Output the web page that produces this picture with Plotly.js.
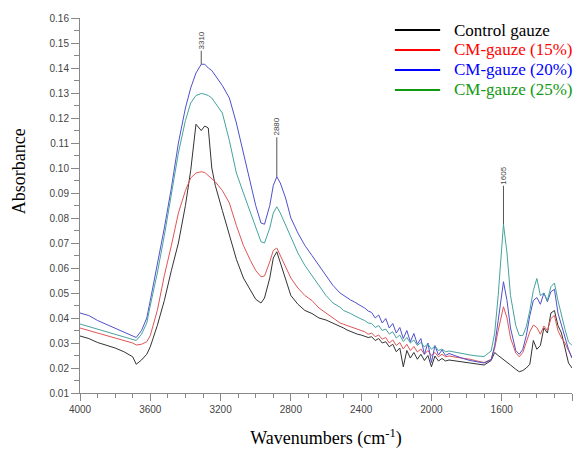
<!DOCTYPE html>
<html>
<head>
<meta charset="utf-8">
<script src="https://cdn.plot.ly/plotly-3.0.1.min.js"></script>
<style>html,body{margin:0;padding:0;background:#fff}#chart{width:583px;height:451px}</style>
</head>
<body>
<div id="chart"></div>
<script>
// Wavenumbers (cm-1), shared by all series
const wavenumber = [
  4000,3950,3900,3850,3800,3750,3700,3680,3650,3620,
  3600,3560,3520,3480,3440,3400,3370,3340,3310,3290,
  3270,3250,3230,3190,3150,3110,3070,3030,3000,2970,
  2950,2920,2900,2880,2860,2830,2800,2760,2720,2680,
  2640,2600,2560,2520,2500,
  2480,2460,2440,2420,2400,2380,2360,2340,2320,2300,
  2280,2260,2240,2220,2200,2180,2160,2140,2120,2100,
  2080,2060,2040,2020,2000,1980,1960,1940,1920,1900,
  1860,1820,1780,1740,1700,1660,1640,1620,1600,1590,
  1570,1550,1520,1500,1480,1460,1440,1420,1400,1380,
  1360,1340,1320,1300,1280,1260,1240,1220,1200
];

const controlGauze = [
  0.0328,0.0318,0.0302,0.0292,0.0280,0.0265,0.0245,0.0215,0.0232,0.0255,
  0.0285,0.0370,0.0470,0.0590,0.0700,0.0850,0.0990,0.1175,0.1150,0.1168,
  0.1160,0.1000,0.0930,0.0830,0.0730,0.0635,0.0560,0.0510,0.0475,0.0460,
  0.0480,0.0560,0.0640,0.0665,0.0620,0.0550,0.0490,0.0455,0.0430,0.0418,
  0.0400,0.0392,0.0380,0.0365,0.0360,
  0.0352,0.0346,0.0342,0.0335,0.0332,0.0328,0.0322,0.0325,0.0310,0.0318,
  0.0300,0.0305,0.0285,0.0295,0.0265,0.0280,0.0205,0.0270,0.0240,0.0262,
  0.0235,0.0255,0.0230,0.0250,0.0205,0.0248,0.0228,0.0238,0.0228,0.0232,
  0.0228,0.0224,0.0220,0.0215,0.0212,0.0230,0.0262,0.0250,0.0240,0.0235,
  0.0225,0.0212,0.0195,0.0185,0.0190,0.0200,0.0215,0.0310,0.0275,0.0290,
  0.0360,0.0340,0.0420,0.0430,0.0370,0.0340,0.0280,0.0220,0.0200
];

const cmGauze15 = [
  0.0360,0.0350,0.0340,0.0330,0.0320,0.0310,0.0300,0.0292,0.0295,0.0305,
  0.0330,0.0430,0.0570,0.0690,0.0820,0.0910,0.0960,0.0980,0.0985,0.0982,
  0.0970,0.0960,0.0945,0.0910,0.0860,0.0770,0.0690,0.0630,0.0590,0.0565,
  0.0568,0.0625,0.0670,0.0680,0.0650,0.0600,0.0560,0.0520,0.0490,0.0470,
  0.0440,0.0420,0.0400,0.0380,0.0375,
  0.0370,0.0365,0.0360,0.0355,0.0350,0.0345,0.0335,0.0340,0.0325,0.0332,
  0.0315,0.0322,0.0300,0.0312,0.0290,0.0302,0.0276,0.0295,0.0270,0.0286,
  0.0264,0.0276,0.0255,0.0270,0.0250,0.0262,0.0245,0.0255,0.0245,0.0248,
  0.0243,0.0240,0.0235,0.0228,0.0222,0.0235,0.0280,0.0350,0.0420,0.0445,
  0.0400,0.0320,0.0260,0.0245,0.0262,0.0300,0.0345,0.0372,0.0362,0.0335,
  0.0368,0.0350,0.0398,0.0410,0.0350,0.0320,0.0300,0.0270,0.0240
];

const cmGauze20 = [
  0.0420,0.0410,0.0390,0.0375,0.0360,0.0345,0.0330,0.0322,0.0350,0.0400,
  0.0470,0.0610,0.0760,0.0920,0.1100,0.1240,0.1320,0.1380,0.1415,0.1415,
  0.1400,0.1390,0.1370,0.1330,0.1280,0.1180,0.1060,0.0940,0.0850,0.0780,
  0.0775,0.0850,0.0930,0.0965,0.0940,0.0880,0.0800,0.0740,0.0690,0.0650,
  0.0610,0.0570,0.0530,0.0500,0.0490,
  0.0480,0.0472,0.0465,0.0455,0.0448,0.0440,0.0428,0.0422,0.0400,0.0412,
  0.0380,0.0398,0.0360,0.0378,0.0340,0.0362,0.0318,0.0350,0.0305,0.0338,
  0.0295,0.0318,0.0255,0.0300,0.0222,0.0290,0.0252,0.0272,0.0250,0.0258,
  0.0247,0.0238,0.0230,0.0225,0.0220,0.0232,0.0290,0.0390,0.0505,0.0545,
  0.0470,0.0360,0.0270,0.0255,0.0275,0.0330,0.0410,0.0470,0.0482,0.0455,
  0.0500,0.0465,0.0505,0.0515,0.0420,0.0370,0.0320,0.0275,0.0240
];

const cmGauze25 = [
  0.0376,0.0366,0.0356,0.0346,0.0336,0.0326,0.0316,0.0310,0.0335,0.0380,
  0.0450,0.0580,0.0730,0.0890,0.1060,0.1190,0.1260,0.1290,0.1298,0.1295,
  0.1290,0.1280,0.1260,0.1220,0.1110,0.0980,0.0900,0.0820,0.0760,0.0705,
  0.0700,0.0760,0.0820,0.0845,0.0820,0.0770,0.0720,0.0660,0.0610,0.0570,
  0.0530,0.0490,0.0460,0.0443,0.0430,
  0.0425,0.0418,0.0410,0.0402,0.0396,0.0390,0.0380,0.0378,0.0362,0.0370,
  0.0350,0.0356,0.0336,0.0345,0.0320,0.0332,0.0306,0.0322,0.0300,0.0312,
  0.0290,0.0302,0.0284,0.0296,0.0275,0.0288,0.0270,0.0276,0.0265,0.0268,
  0.0262,0.0256,0.0252,0.0248,0.0246,0.0268,0.0340,0.0490,0.0690,0.0775,
  0.0660,0.0490,0.0370,0.0330,0.0330,0.0365,0.0430,0.0510,0.0558,0.0490,
  0.0500,0.0470,0.0525,0.0540,0.0470,0.0410,0.0355,0.0305,0.0290
];

const seriesNames = ['Control gauze', 'CM-gauze (15%)', 'CM-gauze (20%)', 'CM-gauze (25%)'];
const seriesData = [controlGauze, cmGauze15, cmGauze20, cmGauze25];
const curveColors = ['#333333', '#e05555', '#5050cc', '#45a39e'];
const legendColors = ['#000000', '#ff0000', '#0000ff', '#119911'];

// Peak labels: label text, wavenumber of the marked peak, series it sits on
const peakLabels = ['3310', '2880', '1605'];
const peakWavenumbers = [3310, 2880, 1590];
const peakSeries = [2, 2, 3];
const peakOffsets = [-24, -50, -49];

const traces = seriesData.map((ys, i) => ({
  x: wavenumber, y: ys, type: 'scatter', mode: 'lines', name: seriesNames[i],
  line: {color: curveColors[i], width: 1},
  showlegend: false, hoverinfo: 'skip'
}));

const annotations = peakLabels.map((lab, i) => {
  const idx = wavenumber.indexOf(peakWavenumbers[i]);
  return {
    x: peakWavenumbers[i], y: seriesData[peakSeries[i]][idx],
    xref: 'x', yref: 'y', text: lab, textangle: -90,
    showarrow: true, arrowhead: 0, arrowwidth: 1, arrowcolor: '#555',
    ax: 0, ay: peakOffsets[i], standoff: 0,
    font: {family: 'Liberation Sans, Arial, sans-serif', size: 8, color: '#444'}
  };
});
annotations.push({
  xref: 'paper', yref: 'paper', x: -0.125, y: 0.59, xanchor: 'center', yanchor: 'middle',
  text: 'Absorbance', textangle: -90, showarrow: false,
  font: {family: 'Liberation Serif, Times New Roman, serif', size: 18, color: '#000'}
});

// Legend key (top right, no frame)
const legendTop = 0.968, legendStep = 0.0533;
const legendLineX0 = 0.640, legendLineX1 = 0.732, legendTextX = 0.757;
const shapes = [];
seriesNames.forEach((n, i) => {
  const yy = legendTop - i * legendStep;
  shapes.push({type: 'line', xref: 'paper', yref: 'paper',
    x0: legendLineX0, x1: legendLineX1, y0: yy, y1: yy,
    line: {color: legendColors[i], width: 2}});
  annotations.push({xref: 'paper', yref: 'paper', x: legendTextX, y: yy,
    xanchor: 'left', yanchor: 'middle', showarrow: false, text: n,
    font: {family: 'Liberation Serif, Times New Roman, serif', size: 17, color: legendColors[i]}});
});

const axisFont = {family: 'Liberation Sans, Arial, sans-serif', size: 10, color: '#444'};

const layout = {
  width: 583, height: 451,
  margin: {l: 80, r: 11, t: 18, b: 58},
  paper_bgcolor: '#fff', plot_bgcolor: '#fff',
  showlegend: false,
  xaxis: {
    range: [4000, 1200], dtick: 400, tick0: 0,
    showgrid: false, zeroline: false,
    showline: true, linecolor: '#888', linewidth: 1,
    ticks: 'outside', ticklen: 7, tickcolor: '#888', tickwidth: 1,
    minor: {dtick: 100, ticks: 'outside', ticklen: 4, tickcolor: '#888', showgrid: false},
    tickfont: axisFont,
    title: {text: 'Wavenumbers (cm<sup>-1</sup>)', standoff: 17,
            font: {family: 'Liberation Serif, Times New Roman, serif', size: 18, color: '#000'}}
  },
  yaxis: {
    range: [0.01, 0.16], dtick: 0.01, tick0: 0, tickformat: '.2f',
    showgrid: false, zeroline: false,
    showline: true, linecolor: '#888', linewidth: 1,
    ticks: 'outside', ticklen: 8, tickcolor: '#888', tickwidth: 1,
    minor: {dtick: 0.005, ticks: 'outside', ticklen: 5, tickcolor: '#888', showgrid: false},
    tickfont: axisFont
  },
  shapes: shapes,
  annotations: annotations
};

Plotly.newPlot('chart', traces, layout, {displayModeBar: false, staticPlot: true});
</script>
</body>
</html>
